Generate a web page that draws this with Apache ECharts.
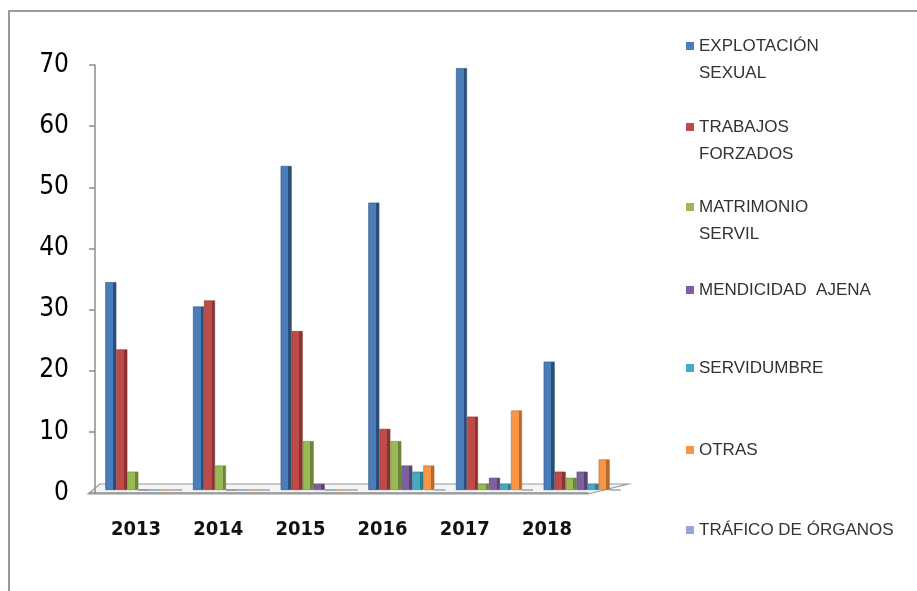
<!DOCTYPE html>
<html>
<head>
<meta charset="utf-8">
<script src="https://cdn.jsdelivr.net/npm/echarts@6/dist/echarts.min.js"></script>
<style>
html,body{margin:0;padding:0;background:#fff;}
#frame{position:absolute;left:8px;top:10px;width:909px;height:581px;border-left:2px solid #9a9a9a;border-top:2px solid #9a9a9a;box-sizing:border-box;}
#chart{position:absolute;left:0;top:0;width:917px;height:591px;}
</style>
</head>
<body>
<div id="frame"></div>
<div id="chart"></div>
<script>
// ---- data ----
var years = ['2013', '2014', '2015', '2016', '2017', '2018'];
var seriesNames = ['EXPLOTACIÓN SEXUAL', 'TRABAJOS FORZADOS', 'MATRIMONIO SERVIL', 'MENDICIDAD AJENA', 'SERVIDUMBRE', 'OTRAS', 'TRÁFICO DE ÓRGANOS'];
var legendLabels = ['EXPLOTACIÓN\nSEXUAL', 'TRABAJOS\nFORZADOS', 'MATRIMONIO\nSERVIL', 'MENDICIDAD  AJENA', 'SERVIDUMBRE', 'OTRAS', 'TRÁFICO DE ÓRGANOS'];
var explotacionSexual = [34, 30, 53, 47, 69, 21];
var trabajosForzados  = [23, 31, 26, 10, 12, 3];
var matrimonioServil  = [3, 4, 8, 8, 1, 2];
var mendicidadAjena   = [0, 0, 1, 4, 2, 3];
var servidumbre       = [0, 0, 0, 3, 1, 1];
var otras             = [0, 0, 0, 4, 13, 5];
var traficoOrganos    = [0, 0, 0, 0, 0, 0];
var yTicks = [0, 10, 20, 30, 40, 50, 60, 70];

var seriesValues = [explotacionSexual, trabajosForzados, matrimonioServil, mendicidadAjena, servidumbre, otras, traficoOrganos];
var mainColors = ['#4a7ebb', '#be4b48', '#98b954', '#7d60a0', '#46aac5', '#f79646', '#92a9cf'];
var darkColors = ['#2c4d75', '#8a3432', '#6b853a', '#574371', '#2f7c91', '#b8692c', '#6a7f9f'];
var condensed = "'DejaVu Sans Condensed', 'Liberation Sans', sans-serif";

var chart = echarts.init(document.getElementById('chart'), null, {renderer: 'canvas'});

var series = seriesNames.map(function (n, i) {
  return {
    name: n,
    type: 'bar',
    xAxisIndex: 1,
    yAxisIndex: 1,
    barWidth: 11,
    barGap: '0%',
    data: seriesValues[i],
    itemStyle: {
      color: new echarts.graphic.LinearGradient(0, 0, 1, 0, [
        {offset: 0, color: mainColors[i]},
        {offset: 0.7, color: mainColors[i]},
        {offset: 0.7, color: darkColors[i]},
        {offset: 1, color: darkColors[i]}
      ]),
      borderColor: darkColors[i],
      borderWidth: 0.6
    }
  };
});

// one legend per entry to place each like the reference
var legendCenters = [46, 127, 207, 290, 368, 450, 530];
var legends = seriesNames.map(function (n, i) {
  var twoLines = legendLabels[i].indexOf('\n') >= 0;
  return {
    data: [{name: n, itemStyle: {color: mainColors[i], borderWidth: 0}}],
    left: 686,
    top: legendCenters[i] - (twoLines ? 40.5 : 13.5),
    padding: 0,
    icon: 'rect',
    itemWidth: 8,
    itemHeight: 8,
    selectedMode: false,
    formatter: function (name) {
      var lbl = legendLabels[seriesNames.indexOf(name)];
      return lbl.indexOf('\n') >= 0 ? '\n' + lbl : lbl;
    },
    textStyle: {
      fontFamily: 'Liberation Sans',
      fontSize: 17,
      color: '#333',
      lineHeight: 27
    }
  };
});

var option = {
  animation: false,
  backgroundColor: 'transparent',
  grid: [
    {left: 95, right: 329, top: 65, bottom: 98},
    {left: 100, right: 291, top: 62, bottom: 101}
  ],
  xAxis: [
    {
      gridIndex: 0, type: 'category', data: years, boundaryGap: true,
      axisLine: {lineStyle: {color: '#8c8c8c', width: 1.5}},
      axisTick: {inside: false, length: 10, lineStyle: {color: '#8c8c8c', width: 1.5}},
      axisLabel: {margin: 27, color: '#111', fontFamily: condensed, fontWeight: 'bold', fontSize: 20}
    },
    {gridIndex: 1, type: 'category', data: years, show: false}
  ],
  yAxis: [
    {
      gridIndex: 0, type: 'value', min: yTicks[0], max: yTicks[yTicks.length - 1], interval: 10,
      axisLine: {show: true, lineStyle: {color: '#8c8c8c', width: 1.5}},
      axisTick: {show: true, length: 6, lineStyle: {color: '#8c8c8c', width: 1.5}},
      splitLine: {show: false},
      axisLabel: {margin: 26, color: '#000', fontFamily: condensed, fontSize: 26}
    },
    {gridIndex: 1, type: 'value', min: 0, max: 70, show: false, splitLine: {show: false}}
  ],
  legend: legends,
  graphic: [
    {
      type: 'polygon', z: -1, silent: true,
      shape: {points: [[88, 494], [588, 494], [628, 484], [100, 484]]},
      style: {fill: '#f4f4f4', stroke: '#9a9a9a', lineWidth: 1.2}
    }
  ],
  series: series
};
chart.setOption(option);
</script>
</body>
</html>
